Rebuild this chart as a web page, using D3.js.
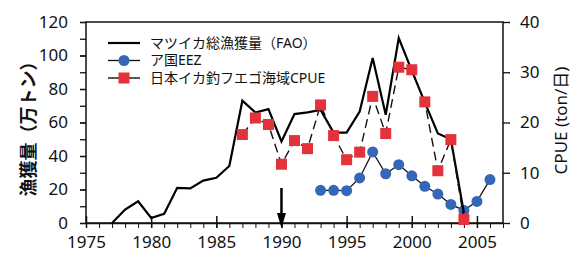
<!DOCTYPE html>
<html>
<head>
<meta charset="utf-8">
<script src="https://cdn.jsdelivr.net/npm/d3@7"></script>
<style>
  body { margin: 0; background: #fff; }
  svg text { font-family: "Noto Sans", "Noto Sans CJK JP", sans-serif; fill: #111; }
  .axis path, .axis line { stroke: #111; }
</style>
</head>
<body>
<svg width="571" height="260"></svg>
<script>
// total catch (FAO), 万トン
var catchYears = [1977, 1978, 1979, 1980, 1981, 1982, 1983, 1984, 1985, 1986, 1987, 1988, 1989, 1990,
  1991, 1992, 1993, 1994, 1995, 1996, 1997, 1998, 1999, 2000, 2001, 2002, 2003, 2004];
var catchValues = [0, 8, 13, 3, 5.5, 21, 20.7, 25.3, 27, 34, 73, 66, 68, 48.7,
  65, 66, 67.5, 54, 54, 66.5, 98.5, 64.6, 110.4, 91, 72, 53.5, 50, 6];

// Argentine EEZ catch, 万トン
var eezYears = [1993, 1994, 1995, 1996, 1997, 1998, 1999, 2000, 2001, 2002, 2003, 2004, 2005, 2006];
var eezValues = [19.5, 19.5, 19.3, 26.9, 42.4, 29.4, 34.8, 28.2, 21.9, 17.3, 11.1, 7.5, 12.9, 25.9];

// Japanese jigging CPUE, ton/day (right axis)
var cpueYears = [1987, 1988, 1989, 1990, 1991, 1992, 1993, 1994, 1995, 1996, 1997, 1998, 1999, 2000,
  2001, 2002, 2003, 2004];
var cpueValues = [17.6, 20.9, 19.6, 11.7, 16.4, 14.8, 23.5, 17.4, 12.6, 14.1, 25.2, 17.8, 31.0, 30.5,
  24.1, 10.4, 16.6, 0.7];

var xTicks = [1975, 1980, 1985, 1990, 1995, 2000, 2005];
var leftTicks = [0, 20, 40, 60, 80, 100, 120];
var rightTicks = [0, 10, 20, 30, 40];
var legendLabels = ["マツイカ総漁獲量（FAO）", "ア国EEZ", "日本イカ釣フエゴ海域CPUE"];
var arrowYear = 1990;

var svg = d3.select("svg"),
  margin = { top: 22, right: 68, bottom: 37, left: 86 },
  width = +svg.attr("width") - margin.left - margin.right,
  height = +svg.attr("height") - margin.top - margin.bottom;

var blue = "#3567b8", red = "#e3323b";

var x = d3.scaleLinear().domain([1975, 2007]).range([0, width]),
  y = d3.scaleLinear().domain([0, 120]).range([height, 0]),
  y2 = d3.scaleLinear().domain([0, 40]).range([height, 0]);

var g = svg.append("g")
  .attr("transform", "translate(" + margin.left + "," + margin.top + ")");

// frame
g.append("rect")
  .attr("width", width).attr("height", height)
  .attr("fill", "none").attr("stroke", "#111").attr("stroke-width", 1.5);

// x axis: yearly minor ticks below, major ticks crossing
g.append("g")
  .attr("class", "axis")
  .attr("transform", "translate(0," + height + ")")
  .call(d3.axisBottom(x).tickValues(d3.range(1975, 2008)).tickSize(5).tickFormat(""))
  .call(function (s) { s.select(".domain").remove(); });

g.append("g")
  .attr("class", "axis axis--x")
  .attr("transform", "translate(0," + height + ")")
  .call(d3.axisBottom(x).tickValues(xTicks).tickSizeInner(-6).tickSizeOuter(0).tickPadding(13).tickFormat(d3.format("d")))
  .call(function (s) {
    s.select(".domain").attr("stroke-width", 1.5);
    s.selectAll(".tick line").attr("y2", -7).attr("y1", 5).attr("stroke-width", 1.5);
    s.selectAll("text").style("font-size", "17px");
  });

// left axis
g.append("g")
  .attr("class", "axis")
  .call(d3.axisLeft(y).tickValues(d3.range(0, 121, 10)).tickSize(6).tickFormat(""))
  .call(function (s) { s.select(".domain").remove(); s.selectAll("line").attr("stroke-width", 1.3); });

g.append("g")
  .attr("class", "axis")
  .call(d3.axisLeft(y).tickValues(leftTicks).tickSize(6).tickPadding(12))
  .call(function (s) {
    s.select(".domain").remove();
    s.selectAll("line").attr("stroke-width", 1.3);
    s.selectAll("text").style("font-size", "17px");
  });

// right axis
g.append("g")
  .attr("class", "axis")
  .attr("transform", "translate(" + width + ",0)")
  .call(d3.axisRight(y2).tickValues(rightTicks).tickSize(7).tickPadding(10))
  .call(function (s) {
    s.select(".domain").remove();
    s.selectAll("line").attr("stroke-width", 1.3);
    s.selectAll("text").style("font-size", "17px");
  });

// axis titles
svg.append("text")
  .attr("transform", "translate(29," + (margin.top + height / 2 + 2) + ") rotate(-90)")
  .attr("text-anchor", "middle")
  .attr("dy", "0.35em")
  .style("font-size", "18px")
  .style("font-weight", "bold")
  .text("漁獲量（万トン）");

svg.append("text")
  .attr("transform", "translate(561," + (margin.top + height / 2 - 2) + ") rotate(-90)")
  .attr("text-anchor", "middle")
  .attr("dy", "0.35em")
  .style("font-size", "17px")
  .text("CPUE (ton/日)");

// EEZ series
var eez = eezYears.map(function (d, i) { return [d, eezValues[i]]; });
g.append("path")
  .datum(eez)
  .attr("fill", "none").attr("stroke", "#111").attr("stroke-width", 1.3)
  .attr("d", d3.line().x(function (d) { return x(d[0]); }).y(function (d) { return y(d[1]); }));
g.selectAll(".dot")
  .data(eez).enter().append("circle")
  .attr("class", "dot")
  .attr("cx", function (d) { return x(d[0]); })
  .attr("cy", function (d) { return y(d[1]); })
  .attr("r", 5.5)
  .attr("fill", blue);

// total catch
var total = catchYears.map(function (d, i) { return [d, catchValues[i]]; });
g.append("path")
  .datum(total)
  .attr("fill", "none").attr("stroke", "#000").attr("stroke-width", 2.2)
  .attr("stroke-linejoin", "miter")
  .attr("d", d3.line().x(function (d) { return x(d[0]); }).y(function (d) { return y(d[1]); }));

// CPUE series
var cpue = cpueYears.map(function (d, i) { return [d, cpueValues[i]]; });
g.append("path")
  .datum(cpue)
  .attr("fill", "none").attr("stroke", "#111").attr("stroke-width", 1.4)
  .attr("stroke-dasharray", "9,5")
  .attr("d", d3.line().x(function (d) { return x(d[0]); }).y(function (d) { return y2(d[1]); }));
g.selectAll(".sq")
  .data(cpue).enter().append("rect")
  .attr("class", "sq")
  .attr("x", function (d) { return x(d[0]) - 5.5; })
  .attr("y", function (d) { return y2(d[1]) - 5.5; })
  .attr("width", 11).attr("height", 11)
  .attr("fill", red);

// arrow at 1990
var ax = x(arrowYear);
g.append("line")
  .attr("x1", ax).attr("x2", ax)
  .attr("y1", height - 35).attr("y2", height - 8)
  .attr("stroke", "#000").attr("stroke-width", 2.5);
g.append("path")
  .attr("d", "M" + (ax - 4.5) + "," + (height - 10) + "L" + (ax + 4.5) + "," + (height - 10) + "L" + ax + "," + (height + 5) + "Z")
  .attr("fill", "#000");

// legend
var legend = g.append("g").attr("transform", "translate(22,21)");
var rowH = 17.5;
legendLabels.forEach(function (label, i) {
  var row = legend.append("g").attr("transform", "translate(0," + i * rowH + ")");
  if (i === 0) {
    row.append("line").attr("x1", 0).attr("x2", 32).attr("stroke", "#000").attr("stroke-width", 2.2);
  } else if (i === 1) {
    row.append("line").attr("x1", 0).attr("x2", 32).attr("stroke", "#111").attr("stroke-width", 1.3);
    row.append("circle").attr("cx", 16).attr("r", 5.5).attr("fill", blue);
  } else {
    row.append("line").attr("x1", 0).attr("x2", 32).attr("stroke", "#111").attr("stroke-width", 1.4);
    row.append("rect").attr("x", 10.5).attr("y", -5.5).attr("width", 11).attr("height", 11).attr("fill", red);
  }
  row.append("text")
    .attr("x", 42).attr("dy", "0.35em")
    .style("font-size", "14px")
    .text(label);
});
</script>
</body>
</html>
